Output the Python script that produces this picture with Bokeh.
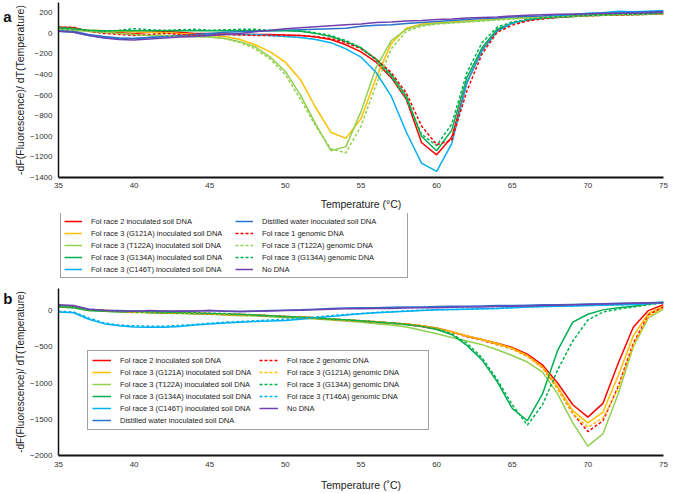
from bokeh.plotting import figure
from bokeh.models import Range1d, Legend, LegendItem, FixedTicker, LinearAxis
from bokeh.layouts import column
from bokeh.embed import file_html
from bokeh.resources import INLINE

# ---------------- data ----------------
temps = list(range(35, 76))
x_ticks = [35, 40, 45, 50, 55, 60, 65, 70, 75]
y_ticks_a = [-1400, -1200, -1000, -800, -600, -400, -200, 0, 200]
y_ticks_b = [-2000, -1500, -1000, -500, 0]

# panel a
race2_inoc_a = [60, 55, 20, 10, 5, 0, 10, 20, 10, 0, 0, -5, -10, -10, -10, -15, -20, -35, -60, -110,
                -180, -280, -430, -640, -1060, -1180, -1010, -480, -165, 30, 100, 130, 150, 160, 170,
                175, 180, 185, 190, 195, 200]
g121a_inoc_a = [50, 40, 30, 25, 20, 15, 10, 5, 0, -10, -20, -30, -60, -110, -180, -280, -450, -720,
                -960, -1020, -830, -430, -100, 50, 90, 100, 110, 120, 130, 140, 150, 155, 160, 165,
                170, 175, 180, 182, 185, 188, 190]
t122a_inoc_a = [40, 30, 20, 10, 0, -10, -20, -20, -30, -30, -35, -50, -80, -130, -230, -370, -600,
                -880, -1140, -1100, -760, -330, -70, 40, 80, 95, 105, 115, 125, 135, 145, 150, 155,
                160, 165, 170, 175, 180, 182, 185, 190]
g134a_inoc_a = [50, 40, 30, 25, 25, 25, 25, 25, 25, 25, 25, 25, 25, 25, 25, 25, 20, 0, -30, -80,
                -140, -250, -400, -610, -1000, -1140, -940, -430, -140, 40, 100, 130, 145, 155, 165,
                175, 180, 185, 185, 190, 195]
c146t_inoc_a = [20, 10, -20, -40, -50, -50, -40, -30, -20, -20, -10, -10, -10, -10, -20, -30, -40,
                -60, -90, -150, -230, -380, -610, -960, -1260, -1340, -1070, -480, -170, 20, 100,
                130, 150, 170, 180, 195, 200, 215, 210, 215, 220]
water_a = [30, 20, -10, -30, -45, -50, -40, -30, -20, -10, 0, 10, 15, 20, 25, 30, 35, 40, 45, 50,
           70, 80, 85, 95, 105, 115, 125, 135, 145, 150, 160, 165, 170, 180, 185, 190, 195, 200,
           205, 210, 215]
race1_gen_a = [60, 60, 20, 0, -10, -20, -10, 0, -10, -20, -20, -10, -15, -20, -20, -20, -20, -30,
               -50, -90, -150, -250, -380, -580, -900, -1080, -1040, -560, -200, 10, 80, 120, 140,
               155, 165, 170, 175, 175, 180, 185, 190]
t122a_gen_a = [40, 30, 20, 10, 0, -10, -20, -20, -30, -30, -35, -50, -90, -150, -250, -400, -640,
               -900, -1120, -1160, -900, -500, -150, 20, 70, 90, 100, 110, 120, 130, 140, 150, 155,
               160, 165, 170, 175, 180, 182, 185, 190]
g134a_gen_a = [60, 50, 30, 20, 30, 45, 35, 30, 35, 40, 30, 35, 40, 40, 30, 30, 25, 5, -20, -70,
               -140, -260, -420, -640, -980, -1090, -880, -380, -90, 60, 110, 135, 150, 160, 170,
               175, 180, 185, 185, 190, 195]
nodna_a = [20, 10, -20, -45, -60, -65, -55, -45, -35, -30, -20, -10, 0, 15, 30, 45, 55, 65, 75, 85,
           90, 105, 110, 120, 125, 135, 140, 150, 155, 160, 170, 175, 180, 185, 185, 190, 195, 195,
           195, 200, 205]

# panel b
race2_inoc_b = [70, 60, 10, 0, -10, -15, -20, -25, -30, -35, -40, -50, -55, -60, -70, -80, -90,
                -100, -115, -130, -140, -155, -170, -185, -210, -240, -290, -350, -400, -450, -510,
                -600, -750, -1000, -1300, -1470, -1280, -730, -230, 0, 80]
g121a_inoc_b = [65, 55, 10, 0, -10, -15, -20, -25, -30, -35, -40, -50, -55, -60, -70, -80, -90,
                -100, -115, -130, -140, -155, -170, -185, -210, -240, -290, -350, -400, -455, -520,
                -620, -780, -1050, -1380, -1550, -1400, -900, -350, -40, 60]
t122a_inoc_b = [50, 40, 0, -10, -20, -25, -30, -35, -40, -45, -50, -60, -70, -75, -85, -95, -105,
                -115, -130, -145, -160, -180, -200, -225, -270, -320, -370, -420, -470, -540, -620,
                -710, -850, -1150, -1550, -1870, -1700, -1150, -500, -100, 20]
g134a_inoc_b = [50, 40, 0, -10, -15, -20, -25, -30, -35, -40, -45, -50, -55, -65, -75, -85, -95,
                -105, -120, -130, -145, -160, -175, -195, -220, -260, -330, -480, -680, -980, -1350,
                -1520, -1150, -550, -160, -50, 10, 40, 60, 90, 120]
c146t_inoc_b = [-20, -30, -120, -180, -210, -225, -230, -230, -220, -200, -185, -170, -160, -150,
                -145, -135, -120, -100, -80, -60, -45, -30, -20, -10, 0, 10, 15, 20, 25, 30, 40, 50,
                55, 60, 65, 70, 75, 80, 85, 95, 105]
water_b = [70, 60, 20, 5, 0, -5, -10, -10, -5, -5, 0, -5, -10, -5, 0, 5, 10, 20, 30, 35, 40, 40,
           45, 50, 50, 55, 60, 60, 65, 70, 70, 75, 80, 80, 85, 90, 95, 100, 105, 110, 115]
race2_gen_b = [60, 50, 10, 0, -10, -20, -25, -30, -35, -40, -45, -55, -60, -65, -75, -85, -95,
               -105, -120, -135, -145, -160, -175, -190, -220, -250, -300, -360, -410, -470, -530,
               -630, -790, -1080, -1420, -1670, -1520, -1050, -450, -60, 50]
g121a_gen_b = [60, 50, 10, 0, -10, -20, -25, -30, -35, -40, -45, -55, -60, -65, -75, -85, -95,
               -105, -120, -135, -145, -160, -175, -190, -215, -245, -295, -355, -405, -465, -530,
               -630, -790, -1080, -1420, -1610, -1480, -1080, -480, -80, 40]
g134a_gen_b = [60, 50, 10, 0, -5, -10, -15, -20, -25, -30, -35, -40, -50, -60, -70, -80, -90,
               -100, -115, -125, -140, -155, -170, -190, -215, -250, -320, -450, -650, -950, -1300,
               -1580, -1300, -820, -420, -130, -20, 20, 50, 80, 110]
t146a_gen_b = [-10, -20, -100, -170, -200, -210, -215, -215, -205, -190, -175, -160, -150, -140,
               -130, -120, -105, -90, -70, -55, -40, -25, -15, -5, 5, 10, 15, 20, 25, 30, 40, 50,
               55, 60, 65, 70, 75, 80, 85, 95, 105]
nodna_b = [80, 70, 20, 5, -5, -10, 0, -5, -10, -5, 0, -10, -15, -10, -5, 0, 5, 10, 20, 25, 25, 30,
           30, 35, 40, 40, 45, 50, 50, 55, 60, 65, 70, 75, 80, 85, 90, 95, 100, 105, 110]

labels_a = ["Fol race 2 inoculated soil DNA", "Fol race 3 (G121A) inoculated soil DNA",
            "Fol race 3 (T122A) inoculated soil DNA", "Fol race 3 (G134A) inoculated soil DNA",
            "Fol race 3 (C146T) inoculated soil DNA", "Distilled water inoculated soil DNA",
            "Fol race 1 genomic DNA", "Fol race 3 (T122A) genomic DNA",
            "Fol race 3 (G134A) genomic DNA", "No DNA"]
labels_b = ["Fol race 2 inoculated soil DNA", "Fol race 3 (G121A) inoculated soil DNA",
            "Fol race 3 (T122A) inoculated soil DNA", "Fol race 3 (G134A) inoculated soil DNA",
            "Fol race 3 (C146T) inoculated soil DNA", "Distilled water inoculated soil DNA",
            "Fol race 2 genomic DNA", "Fol race 3 (G121A) genomic DNA",
            "Fol race 3 (G134A) genomic DNA", "Fol race 3 (T146A) genomic DNA", "No DNA"]

RED, YEL, LGR, GRN, LBL, BLU, PUR = ("#ff0000", "#ffc000", "#92d050", "#00b050",
                                     "#00b0f0", "#2a72cc", "#7040b0")
FONT = "Liberation Sans"

styles_a = [(RED, "solid"), (YEL, "solid"), (LGR, "solid"), (GRN, "solid"), (LBL, "solid"),
            (BLU, "solid"), (RED, "3 2"), (LGR, "3 2"), (GRN, "3 2"), (PUR, "solid")]
values_a = [race2_inoc_a, g121a_inoc_a, t122a_inoc_a, g134a_inoc_a, c146t_inoc_a, water_a,
            race1_gen_a, t122a_gen_a, g134a_gen_a, nodna_a]
styles_b = [(RED, "solid"), (YEL, "solid"), (LGR, "solid"), (GRN, "solid"), (LBL, "solid"),
            (BLU, "solid"), (RED, "3 2"), (YEL, "3 2"), (GRN, "3 2"), (LBL, "3 2"), (PUR, "solid")]
values_b = [race2_inoc_b, g121a_inoc_b, t122a_inoc_b, g134a_inoc_b, c146t_inoc_b, water_b,
            race2_gen_b, g121a_gen_b, g134a_gen_b, t146a_gen_b, nodna_b]


def make_legend(items, loc, label_w, glyph_w, pad, orientation, **grid):
    return Legend(items=items, location=loc, orientation=orientation,
                  label_text_font=FONT, label_text_font_size="7.5px", label_text_color="#222222",
                  label_height=10, glyph_height=10, glyph_width=glyph_w, label_standoff=9,
                  spacing=2, padding=pad, margin=0, label_width=label_w,
                  border_line_color="#404040", border_line_width=1,
                  background_fill_color="white", background_fill_alpha=1.0, **grid)


def make_panel(values, styles, yr, yticks, xlabel, letter, letter_y, h, borders, std, ylab_size):
    bl, br, bt, bb = borders
    p = figure(width=675, height=h, output_backend="svg", toolbar_location=None,
               x_range=Range1d(35, 75), y_range=Range1d(*yr),
               min_border_left=bl, min_border_right=br, min_border_top=bt, min_border_bottom=bb)
    p.outline_line_color = None
    p.xgrid.visible = False
    p.ygrid.visible = False
    for ax in (p.xaxis[0], p.yaxis[0]):
        ax.major_tick_line_color = None
        ax.minor_tick_line_color = None
        ax.major_tick_out = 0
        ax.major_tick_in = 0
        ax.minor_tick_out = 0
        ax.axis_line_color = "#111111"
        ax.axis_line_width = 1.5
        ax.major_label_text_font = FONT
        ax.major_label_text_font_size = "8px"
        ax.major_label_text_color = "#333333"
        ax.axis_label_text_font = FONT
        ax.axis_label_text_font_style = "normal"
        ax.axis_label_text_color = "#222222"
    p.xaxis[0].axis_label_text_font_size = "10.5px"
    p.yaxis[0].axis_label_text_font_size = ylab_size
    p.xaxis[0].axis_line_width = 2
    p.xaxis[0].ticker = FixedTicker(ticks=x_ticks)
    p.yaxis[0].ticker = FixedTicker(ticks=yticks)
    p.xaxis[0].axis_label = xlabel
    p.yaxis[0].axis_label = "-dF(Fluorescence)/ dT(Temperature)"
    p.xaxis[0].major_label_standoff = std[0]
    p.xaxis[0].axis_label_standoff = std[1]
    p.yaxis[0].major_label_standoff = 6
    p.yaxis[0].axis_label_standoff = 1

    renderers = []
    for vals, (col, dash) in zip(values, styles):
        renderers.append(p.line(temps, vals, line_color=col, line_width=1.5, line_dash=dash))

    # panel letter as an outer, line-less axis label
    tag = LinearAxis(ticker=FixedTicker(ticks=[letter_y]),
                     major_label_overrides={letter_y: letter},
                     axis_line_color=None, major_tick_line_color=None, minor_tick_line_color=None,
                     major_tick_out=0, major_tick_in=0, minor_tick_out=0, minor_tick_in=0,
                     major_label_standoff=0, major_label_text_font=FONT,
                     major_label_text_font_size="15px", major_label_text_font_style="bold",
                     major_label_text_color="#111111")
    p.add_layout(tag, "left")
    return p, renderers


# ---- panel a ----
pa, _ = make_panel(values_a, styles_a, (-1400, 300), y_ticks_a, "Temperature (°C)", "a", 160, 213,
                   (50, 12, 2, 36), (5, 7), "10.5px")

# ---- legend strip for panel a: the same series, drawn outside this strip's visible range,
#      so only their legend entries show ----
pl = figure(width=675, height=73, output_backend="svg", toolbar_location=None,
            x_range=Range1d(0, 1), y_range=Range1d(0, 1), x_axis_type=None, y_axis_type=None,
            min_border_left=0, min_border_right=0, min_border_top=0, min_border_bottom=0)
pl.outline_line_color = None
pl.xgrid.visible = False
pl.ygrid.visible = False
leg_items_a = []
for vals, (col, dash), lab in zip(values_a, styles_a, labels_a):
    r = pl.line(temps, vals, line_color=col, line_width=1.5, line_dash=dash)
    leg_items_a.append(LegendItem(label=lab, renderers=[r]))
pl.add_layout(make_legend(leg_items_a, (2, 8), 142, 18, 3, "vertical", nrows=5))

# ---- panel b ----
pb, rb = make_panel(values_b, styles_b, (-2000, 305), y_ticks_b, "Temperature (˚C)", "b", 170, 207,
                    (50, 12, 2, 37), (6, 9), "10px")
items_b = [LegendItem(label=lab, renderers=[r]) for lab, r in zip(labels_b, rb)]
left_b, right_b = items_b[:6], items_b[6:]
ordered_b = []
for i in range(6):
    ordered_b.append(left_b[i])
    if i < len(right_b):
        ordered_b.append(right_b[i])
pb.add_layout(make_legend(ordered_b, (29, 25), 137, 19, 4, "horizontal", ncols=2))

layout = column(pa, pl, pb, spacing=0)
open("out.html", "w").write(file_html(layout, INLINE))
